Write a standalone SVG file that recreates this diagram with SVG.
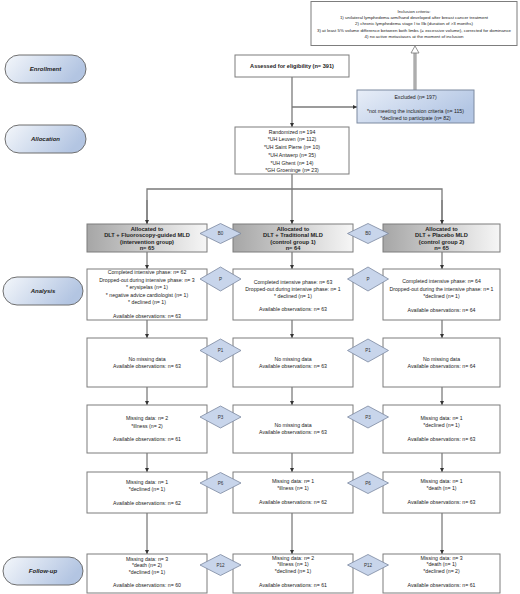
<svg xmlns="http://www.w3.org/2000/svg" width="520" height="594" viewBox="0 0 520 594">
<defs>
<linearGradient id="pill" x1="0" y1="0" x2="1" y2="0.3">
<stop offset="0" stop-color="#f4f7fb"/><stop offset="1" stop-color="#b3c5e2"/>
</linearGradient>
<linearGradient id="excl" x1="0" y1="0" x2="1" y2="0.5">
<stop offset="0" stop-color="#e8eef8"/><stop offset="1" stop-color="#b3c6e4"/>
</linearGradient>
<linearGradient id="grp" x1="0" y1="0" x2="1" y2="0">
<stop offset="0" stop-color="#a6a6a6"/><stop offset="1" stop-color="#f6f6f6"/>
</linearGradient>
<marker id="ar" viewBox="0 0 6 6" refX="6" refY="3" markerWidth="4.5" markerHeight="4.5" orient="auto" markerUnits="userSpaceOnUse">
<path d="M0,0 L6,3 L0,6 z" fill="#333"/>
</marker>
<style>
.box{fill:#fff;stroke:#7d7d7d;stroke-width:1}
.pill{fill:url(#pill);stroke:#6f6f6f;stroke-width:1}
.grp{fill:url(#grp);stroke:#7d7d7d;stroke-width:1}
.dia{fill:#c8d5eb;stroke:#7b88a0;stroke-width:0.8}
.t{font-family:"Liberation Sans",Arial,sans-serif;font-size:5.2px;fill:#222;text-anchor:middle;dominant-baseline:central}
.s{font-size:4.4px}
.b{font-weight:bold;font-size:5.7px}
.pt{font-family:"Liberation Sans",Arial,sans-serif;font-size:6px;font-weight:bold;font-style:italic;fill:#222;text-anchor:middle;dominant-baseline:central}
.dt{font-family:"Liberation Sans",Arial,sans-serif;font-size:4.6px;fill:#333;text-anchor:middle;dominant-baseline:central}
.c{fill:none;stroke:#444;stroke-width:0.9}
.cg{fill:none;stroke:#7a7a7a;stroke-width:1.3}
</style>
</defs>

<g id="connectors">
<line x1="415" y1="90" x2="415" y2="53" stroke="#8a8a8a" stroke-width="3"/>
<line x1="415" y1="90" x2="415" y2="53" stroke="#d0d0d0" stroke-width="1"/>
<polygon points="415,46 411,53 419,53" fill="#fff" stroke="#777" stroke-width="0.8"/>
<line class="cg" x1="292" y1="77" x2="292" y2="127" marker-end="url(#ar)"/>
<line class="cg" x1="292" y1="107" x2="357" y2="107" marker-end="url(#ar)"/>
<polyline class="cg" points="292,174 292,189"/>
<polyline class="cg" points="147,224 147,189 442,189 442,224"/>
<line class="cg" x1="147" y1="200" x2="147" y2="224" marker-end="url(#ar)"/>
<line class="cg" x1="442" y1="200" x2="442" y2="224" marker-end="url(#ar)"/>
<line class="cg" x1="292" y1="189" x2="292" y2="224" marker-end="url(#ar)"/>
<g>
<line class="c" x1="147" y1="252" x2="147" y2="269" marker-end="url(#ar)"/>
<line class="c" x1="292" y1="252" x2="292" y2="269" marker-end="url(#ar)"/>
<line class="c" x1="442" y1="252" x2="442" y2="269" marker-end="url(#ar)"/>
<line class="c" x1="147" y1="320" x2="147" y2="338" marker-end="url(#ar)"/>
<line class="c" x1="292" y1="320" x2="292" y2="338" marker-end="url(#ar)"/>
<line class="c" x1="442" y1="320" x2="442" y2="338" marker-end="url(#ar)"/>
<line class="c" x1="147" y1="387" x2="147" y2="405" marker-end="url(#ar)"/>
<line class="c" x1="292" y1="387" x2="292" y2="405" marker-end="url(#ar)"/>
<line class="c" x1="442" y1="387" x2="442" y2="405" marker-end="url(#ar)"/>
<line class="c" x1="147" y1="453" x2="147" y2="472" marker-end="url(#ar)"/>
<line class="c" x1="292" y1="453" x2="292" y2="472" marker-end="url(#ar)"/>
<line class="c" x1="442" y1="453" x2="442" y2="472" marker-end="url(#ar)"/>
<line class="c" x1="147" y1="513" x2="147" y2="554" marker-end="url(#ar)"/>
<line class="c" x1="292" y1="513" x2="292" y2="554" marker-end="url(#ar)"/>
<line class="c" x1="442" y1="513" x2="442" y2="554" marker-end="url(#ar)"/>
</g>
</g>

<g id="inclusion">
<rect class="box" x="311" y="1.5" width="206" height="44"/>
<text class="t s" x="414" y="11">Inclusion criteria:</text>
<text class="t s" x="414" y="17">1) unilateral lymphedema arm/hand developed after breast cancer treatment</text>
<text class="t s" x="414" y="23.5">2) chronic lymphedema stage I to IIb (duration of &gt;3 months)</text>
<text class="t s" x="414" y="30">3) at least 5% volume difference between both limbs (= excessive volume), corrected for dominance</text>
<text class="t s" x="414" y="36.5">4) no active metastases at the moment of inclusion</text>
</g>

<g id="enrollment"><rect class="pill" x="5" y="55" width="81" height="28" rx="14"/><text class="pt" x="45.5" y="69">Enrollment</text></g>
<g id="allocation"><rect class="pill" x="5" y="125" width="81" height="28" rx="14"/><text class="pt" x="45.5" y="139">Allocation</text></g>
<g id="analysis"><rect class="pill" x="3" y="277" width="80" height="28" rx="14"/><text class="pt" x="43" y="291">Analysis</text></g>
<g id="followup"><rect class="pill" x="3" y="557" width="80" height="28" rx="14"/><text class="pt" x="43" y="571">Follow-up</text></g>

<g id="assessed">
<rect class="box" x="235" y="55" width="114" height="22"/>
<text class="t b" x="292" y="66" style="font-size:5.6px">Assessed for eligibility (n= 391)</text>
</g>

<g id="excluded">
<rect x="357" y="90" width="117" height="33" fill="url(#excl)" stroke="#7d8aa0" stroke-width="1"/>
<text class="t" x="415.5" y="97">Excluded (n= 197)</text>
<text class="t" x="415.5" y="111">*not meeting the inclusion criteria (n= 115)</text>
<text class="t" x="415.5" y="118">*declined to participate (n= 82)</text>
</g>

<g id="randomized">
<rect class="box" x="235" y="127" width="114" height="47"/>
<text class="t" x="292" y="131.5">Randomized n= 194</text>
<text class="t" x="292" y="139">*UH Leuven (n= 112)</text>
<text class="t" x="292" y="147">*UH Saint Pierre (n= 10)</text>
<text class="t" x="292" y="155">*UH Antwerp (n= 35)</text>
<text class="t" x="292" y="162.5">*UH Ghent (n= 14)</text>
<text class="t" x="292" y="170">*GH Groeninge (n= 23)</text>
</g>

<g id="group1">
<rect class="grp" x="87" y="224" width="120" height="28"/>
<text class="t b" x="147" y="228.5">Allocated to</text>
<text class="t b" x="147" y="235">DLT + Fluoroscopy-guided MLD</text>
<text class="t b" x="147" y="242">(intervention group)</text>
<text class="t b" x="147" y="248">n= 65</text>
</g>
<g id="group2">
<rect class="grp" x="233" y="224" width="120" height="28"/>
<text class="t b" x="293" y="228.5">Allocated to</text>
<text class="t b" x="293" y="235">DLT + Traditional MLD</text>
<text class="t b" x="293" y="242">(control group 1)</text>
<text class="t b" x="293" y="248">n= 64</text>
</g>
<g id="group3">
<rect class="grp" x="383" y="224" width="117" height="28"/>
<text class="t b" x="441.5" y="228.5">Allocated to</text>
<text class="t b" x="441.5" y="235">DLT + Placebo MLD</text>
<text class="t b" x="441.5" y="242">(control group 2)</text>
<text class="t b" x="441.5" y="248">n= 65</text>
</g>

<g id="a1">
<rect class="box" x="87" y="269" width="120" height="51"/>
<text class="t" x="147" y="272">Completed intensive phase: n= 62</text>
<text class="t" x="147" y="279.5">Dropped-out during intensive phase: n= 3</text>
<text class="t" x="147" y="287">* erysipelas (n= 1)</text>
<text class="t" x="147" y="294.5">* negative advice cardiologist (n= 1)</text>
<text class="t" x="147" y="302">* declined (n= 1)</text>
<text class="t" x="147" y="316">Available observations: n= 63</text>
</g>
<g id="a2">
<rect class="box" x="233" y="269" width="120" height="51"/>
<text class="t" x="293" y="281.5">Completed intensive phase: n= 63</text>
<text class="t" x="293" y="288.5">Dropped-out during intensive phase: n= 1</text>
<text class="t" x="293" y="295.5">* declined (n= 1)</text>
<text class="t" x="293" y="309">Available observations: n= 63</text>
</g>
<g id="a3">
<rect class="box" x="383" y="269" width="117" height="51"/>
<text class="t" x="441.5" y="281">Completed intensive phase: n= 64</text>
<text class="t" x="441.5" y="288.5">Dropped-out during the intensive phase: n= 1</text>
<text class="t" x="441.5" y="296">*declined (n= 1)</text>
<text class="t" x="441.5" y="310">Available observations: n= 64</text>
</g>

<g id="p1a"><rect class="box" x="87" y="338" width="120" height="49"/><text class="t" x="147" y="359">No missing data</text><text class="t" x="147" y="366">Available observations: n= 63</text></g>
<g id="p1b"><rect class="box" x="233" y="338" width="120" height="49"/><text class="t" x="293" y="359">No missing data</text><text class="t" x="293" y="366">Available observations: n= 63</text></g>
<g id="p1c"><rect class="box" x="383" y="338" width="117" height="49"/><text class="t" x="441.5" y="359">No missing data</text><text class="t" x="441.5" y="366">Available observations: n= 64</text></g>

<g id="p3a"><rect class="box" x="87" y="405" width="120" height="48"/><text class="t" x="147" y="418">Missing data: n= 2</text><text class="t" x="147" y="426">*illness (n= 2)</text><text class="t" x="147" y="439">Available observations: n= 61</text></g>
<g id="p3b"><rect class="box" x="233" y="405" width="120" height="48"/><text class="t" x="293" y="425">No missing data</text><text class="t" x="293" y="432">Available observations: n= 63</text></g>
<g id="p3c"><rect class="box" x="383" y="405" width="117" height="48"/><text class="t" x="441.5" y="417.5">Missing data: n= 1</text><text class="t" x="441.5" y="425">*declined (n= 1)</text><text class="t" x="441.5" y="438.5">Available observations: n= 63</text></g>

<g id="p6a"><rect class="box" x="87" y="472" width="120" height="41"/><text class="t" x="147" y="482">Missing data: n= 1</text><text class="t" x="147" y="488.5">*declined (n= 1)</text><text class="t" x="147" y="503">Available observations: n= 62</text></g>
<g id="p6b"><rect class="box" x="233" y="472" width="120" height="41"/><text class="t" x="293" y="481">Missing data: n= 1</text><text class="t" x="293" y="488">*illness (n= 1)</text><text class="t" x="293" y="502">Available observations: n= 62</text></g>
<g id="p6c"><rect class="box" x="383" y="472" width="117" height="41"/><text class="t" x="441.5" y="481">Missing data: n= 1</text><text class="t" x="441.5" y="488">*death (n= 1)</text><text class="t" x="441.5" y="502">Available observations: n= 63</text></g>

<g id="p12a"><rect class="box" x="87" y="554" width="120" height="39"/><text class="t" x="147" y="558.5">Missing data: n= 3</text><text class="t" x="147" y="565">*death (n= 2)</text><text class="t" x="147" y="572">*declined (n= 1)</text><text class="t" x="147" y="585">Available observations: n= 60</text></g>
<g id="p12b"><rect class="box" x="233" y="554" width="120" height="39"/><text class="t" x="293" y="557.5">Missing data: n= 2</text><text class="t" x="293" y="564">*illness (n= 1)</text><text class="t" x="293" y="571">*declined (n= 1)</text><text class="t" x="293" y="585">Available observations: n= 61</text></g>
<g id="p12c"><rect class="box" x="383" y="554" width="117" height="39"/><text class="t" x="441.5" y="557.5">Missing data: n= 3</text><text class="t" x="441.5" y="564">*death (n= 1)</text><text class="t" x="441.5" y="571">*declined (n= 2)</text><text class="t" x="441.5" y="585">Available observations: n= 61</text></g>

<g id="d-b0a"><polygon class="dia" points="200,233.5 220.5,223.5 241,233.5 220.5,243.5"/><text class="dt" x="220.5" y="233.5">B0</text></g>
<g id="d-b0b"><polygon class="dia" points="347.5,233.5 368,223.5 388.5,233.5 368,243.5"/><text class="dt" x="368" y="233.5">B0</text></g>
<g id="d-pa"><polygon class="dia" points="200,279 220.5,267 241,279 220.5,291"/><text class="dt" x="220.5" y="279">P</text></g>
<g id="d-pb"><polygon class="dia" points="347.5,279 368,267 388.5,279 368,291"/><text class="dt" x="368" y="279">P</text></g>
<g id="d-p1a"><polygon class="dia" points="200,350.5 220.5,339 241,350.5 220.5,362"/><text class="dt" x="220.5" y="350.5">P1</text></g>
<g id="d-p1b"><polygon class="dia" points="347.5,350.5 368,339 388.5,350.5 368,362"/><text class="dt" x="368" y="350.5">P1</text></g>
<g id="d-p3a"><polygon class="dia" points="200,417 220.5,406 241,417 220.5,428"/><text class="dt" x="220.5" y="417">P3</text></g>
<g id="d-p3b"><polygon class="dia" points="347.5,417 368,406 388.5,417 368,428"/><text class="dt" x="368" y="417">P3</text></g>
<g id="d-p6a"><polygon class="dia" points="200,483 220.5,472.5 241,483 220.5,493.5"/><text class="dt" x="220.5" y="483">P6</text></g>
<g id="d-p6b"><polygon class="dia" points="347.5,483 368,472.5 388.5,483 368,493.5"/><text class="dt" x="368" y="483">P6</text></g>
<g id="d-p12a"><polygon class="dia" points="200,565 220.5,554.5 241,565 220.5,575.5"/><text class="dt" x="220.5" y="565">P12</text></g>
<g id="d-p12b"><polygon class="dia" points="347.5,565 368,554.5 388.5,565 368,575.5"/><text class="dt" x="368" y="565">P12</text></g>
</svg>
